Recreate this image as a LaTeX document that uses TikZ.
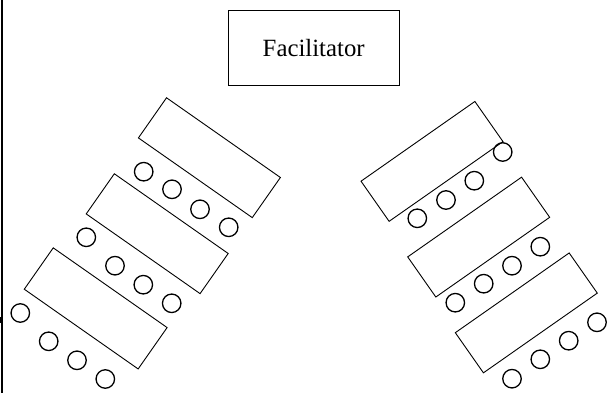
\documentclass[tikz,border=0pt]{standalone}
\usepackage{fontspec}
\setmainfont{Liberation Serif}
\begin{document}
\begin{tikzpicture}[x=1pt,y=-1pt,
  tablebox/.style={draw,line width=0.9pt,rectangle,inner sep=0pt,minimum width=139pt,minimum height=49pt},
  chair/.style={draw,line width=1.3pt,circle,inner sep=0pt,minimum size=18.5pt},
  facbox/.style={draw,line width=0.9pt,rectangle,inner sep=0pt,minimum width=170.7pt,minimum height=75.3pt,font=\fontsize{24.8pt}{28pt}\selectfont}]
\useasboundingbox (0,0) rectangle (614,393);
\draw[line width=1.5pt] (2,-1) -- (2,394);
\draw[line width=1.5pt] (0,317) -- (0,323);
\node[facbox] (fac) at (313.7,48.3) {Facilitator};
% left tables
\node[tablebox,rotate=-35] (tl1) at (209.4,157.7) {};
\node[tablebox,rotate=-35] (tl2) at (157.2,233.7) {};
\node[tablebox,rotate=-35,minimum height=50.5pt] (tl3) at (95.7,308.4) {};
% right tables
\node[tablebox,rotate=35] (tr1) at (432,161.4) {};
\node[tablebox,rotate=35] (tr2) at (478.7,237.1) {};
\node[tablebox,rotate=35] (tr3) at (526.3,312.9) {};
% left chairs
\node[chair] (cl11) at (143.7,171.7) {};
\node[chair] (cl12) at (172,189.3) {};
\node[chair] (cl13) at (200,209.3) {};
\node[chair] (cl14) at (228.7,227.3) {};
\node[chair] (cl21) at (86.3,237.3) {};
\node[chair] (cl22) at (115,265.7) {};
\node[chair] (cl23) at (143.3,284.7) {};
\node[chair] (cl24) at (171.7,303.3) {};
\node[chair] (cl31) at (20.3,313) {};
\node[chair] (cl32) at (48.7,341.3) {};
\node[chair] (cl33) at (77,360.3) {};
\node[chair] (cl34) at (105.3,379) {};
% right chairs
\node[chair] (cr11) at (502.7,152) {};
\node[chair] (cr12) at (474.3,180.7) {};
\node[chair] (cr13) at (446,200) {};
\node[chair] (cr14) at (417.3,218.3) {};
\node[chair] (cr21) at (540.3,246.7) {};
\node[chair] (cr22) at (512,265.7) {};
\node[chair] (cr23) at (483.7,283.7) {};
\node[chair] (cr24) at (455.3,302.7) {};
\node[chair] (cr31) at (597,322.3) {};
\node[chair] (cr32) at (568.7,340.7) {};
\node[chair] (cr33) at (540.3,359.3) {};
\node[chair] (cr34) at (512,378.7) {};
\end{tikzpicture}
\end{document}
